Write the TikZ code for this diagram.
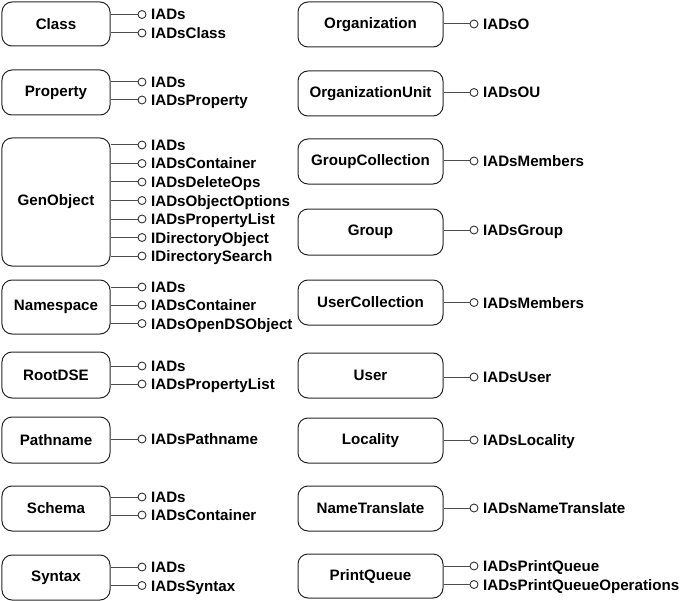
\documentclass[tikz,border=0pt]{standalone}
\usepackage{fontspec}
\setmainfont{Liberation Sans}
\tikzset{
  x=1bp, y=-1bp,
  box/.style={draw=black!85, line width=1bp, rounded corners=10bp, inner sep=0pt,
    font=\fontsize{15.2}{18}\selectfont\bfseries, align=center},
  lbox/.style={box, minimum width=108bp},
  rbox/.style={box, minimum width=145bp},
  lolly/.style={draw=black!80, line width=0.9bp, circle, minimum size=8bp, inner sep=0pt, fill=white},
  conn/.style={draw=black!70, line width=1bp},
  lbl/.style={anchor=base west, inner sep=0pt, font=\fontsize{15.2}{18}\selectfont\bfseries}
}
\newcommand\ifc[5]{%
  \node[lolly] (#2) at (#5,#3) {};
  \draw[conn] (#1.east |- #2) -- (#2.west);
  \node[lbl] (#2t) at ([xshift=4.5bp,yshift=-5.5bp]#2.east) {#4};}
\begin{document}
\begin{tikzpicture}
\useasboundingbox (0,0) rectangle (683,601);
% left column
\node[lbox, minimum height=44bp] (class) at (56,24) {Class};
\node[lbox, minimum height=45bp] (property) at (56,92.5) {Property};
\node[lbox, minimum height=128bp] (genobject) at (56,202) {GenObject};
\node[lbox, minimum height=54bp] (namespace) at (56,307) {Namespace};
\node[lbox, minimum height=46bp] (rootdse) at (56,375) {RootDSE};
\node[lbox, minimum height=46bp] (pathname) at (56,440) {Pathname};
\node[lbox, minimum height=45bp] (schema) at (56,508.5) {Schema};
\node[lbox, minimum height=45bp] (syntax) at (56,577.5) {Syntax};
% right column
\node[rbox, minimum height=45bp] (org) at (370.5,24.5) {Organization};
\node[rbox, minimum height=45bp] (ou) at (370.5,93.5) {OrganizationUnit};
\node[rbox, minimum height=45bp] (gc) at (370.5,161.5) {GroupCollection};
\node[rbox, minimum height=46bp] (group) at (370.5,232) {Group};
\node[rbox, minimum height=45bp] (uc) at (370.5,302.5) {UserCollection};
\node[rbox, minimum height=45bp] (user) at (370.5,375.5) {User};
\node[rbox, minimum height=45bp] (locality) at (370.5,440.5) {Locality};
\node[rbox, minimum height=45bp] (nt) at (370.5,508.5) {NameTranslate};
\node[rbox, minimum height=44bp] (pq) at (370.5,576) {PrintQueue};
% left interfaces
\ifc{class}{ca}{14.5}{IADs}{142}
\ifc{class}{cb}{33}{IADsClass}{142}
\ifc{property}{pa}{82}{IADs}{142}
\ifc{property}{pb}{100}{IADsProperty}{142}
\ifc{genobject}{ga}{145}{IADs}{142}
\ifc{genobject}{gb}{163.5}{IADsContainer}{142}
\ifc{genobject}{gcc}{182}{IADsDeleteOps}{142}
\ifc{genobject}{gd}{200.5}{IADsObjectOptions}{142}
\ifc{genobject}{ge}{219}{IADsPropertyList}{142}
\ifc{genobject}{gf}{237.5}{IDirectoryObject}{142}
\ifc{genobject}{gg}{256}{IDirectorySearch}{142}
\ifc{namespace}{na}{287}{IADs}{142}
\ifc{namespace}{nb}{305}{IADsContainer}{142}
\ifc{namespace}{nc}{323.5}{IADsOpenDSObject}{142}
\ifc{rootdse}{ra}{366}{IADs}{142}
\ifc{rootdse}{rb}{384}{IADsPropertyList}{142}
\ifc{pathname}{pna}{439}{IADsPathname}{142}
\ifc{schema}{sa}{497}{IADs}{142}
\ifc{schema}{sb}{515}{IADsContainer}{142}
\ifc{syntax}{sya}{567}{IADs}{142}
\ifc{syntax}{syb}{585.5}{IADsSyntax}{142}
% right interfaces
\ifc{org}{oa}{24}{IADsO}{474}
\ifc{ou}{oua}{92.5}{IADsOU}{474}
\ifc{gc}{gca}{161}{IADsMembers}{474}
\ifc{group}{gra}{230}{IADsGroup}{474}
\ifc{uc}{uca}{302.5}{IADsMembers}{474}
\ifc{user}{ua}{377}{IADsUser}{474}
\ifc{locality}{la}{440}{IADsLocality}{474}
\ifc{nt}{nta}{508}{IADsNameTranslate}{474}
\ifc{pq}{pqa}{566}{IADsPrintQueue}{474}
\ifc{pq}{pqb}{584.5}{IADsPrintQueueOperations}{474}
\end{tikzpicture}
\end{document}
